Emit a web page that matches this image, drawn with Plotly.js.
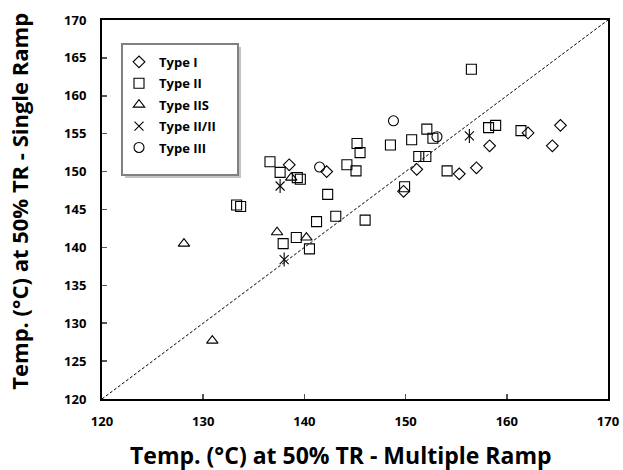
<!DOCTYPE html>
<html>
<head>
<meta charset="utf-8">
<script src="https://cdn.plot.ly/plotly-3.0.1.min.js"></script>
<style>html,body{margin:0;padding:0;background:#fff;}#chart{width:623px;height:470px;}</style>
</head>
<body>
<div id="chart"></div>
<script>
// Type I (diamonds)
const typeI_x = [138.5, 142.2, 151.1, 149.8, 162.1, 165.3, 164.5, 158.3, 157.0, 155.3];
const typeI_y = [150.9, 150.0, 150.3, 147.4, 155.1, 156.1, 153.4, 153.4, 150.5, 149.7];
// Type II (squares)
const typeII_x = [136.6, 137.6, 139.3, 139.6, 144.2, 145.1, 145.2, 145.5, 148.5, 150.6, 152.1, 152.7, 151.3, 152.0, 149.9, 142.3, 133.3, 133.7, 141.2, 143.1, 146.0, 137.9, 139.2, 140.5, 156.5, 158.2, 158.9, 161.4, 154.1];
const typeII_y = [151.3, 149.9, 149.2, 149.0, 150.9, 150.1, 153.7, 152.5, 153.5, 154.2, 155.6, 154.4, 152.0, 152.0, 148.0, 147.0, 145.6, 145.4, 143.4, 144.1, 143.6, 140.5, 141.3, 139.8, 163.5, 155.8, 156.1, 155.4, 150.1];
// Type IIS (triangles)
const typeIIS_x = [138.7, 128.1, 137.3, 140.2, 130.9];
const typeIIS_y = [149.2, 140.5, 142.0, 141.3, 127.7];
// Type II/II (stars)
const typeIIII_x = [137.6, 138.0, 156.3];
const typeIIII_y = [148.1, 138.4, 154.7];
// Type III (circles)
const typeIII_x = [148.8, 141.5, 153.1];
const typeIII_y = [156.7, 150.6, 154.6];
// 1:1 reference line
const identity_x = [120, 170];
const identity_y = [120, 170];
const xTicks = [120, 130, 140, 150, 160, 170];
const yTicks = [120, 125, 130, 135, 140, 145, 150, 155, 160, 165, 170];
const xTitle = 'Temp. (°C) at 50% TR - Multiple Ramp';
const yTitle = 'Temp. (°C) at 50% TR - Single Ramp';

const FONT = '"Open Sans", Lato, sans-serif';
const mk = (sym, size) => ({symbol: sym, size: size, color: '#000', line: {color: '#000', width: 1.1}});

const traces = [
  {x: identity_x, y: identity_y, yaxis: 'y2', mode: 'lines', line: {color: '#000', width: 1, dash: '3px,2px'}, showlegend: false, hoverinfo: 'skip'},
  {x: typeI_x, y: typeI_y, mode: 'markers', name: 'Type I', legendgroup: 'g1', marker: mk('diamond-open', 9)},
  {x: typeII_x, y: typeII_y, mode: 'markers', name: 'Type II', legendgroup: 'g2', marker: mk('square-open', 10)},
  {x: typeIIS_x, y: typeIIS_y, mode: 'markers', name: 'Type IIS', legendgroup: 'g3', marker: mk('triangle-up-open', 10)},
  {x: typeIIII_x, y: typeIIII_y, mode: 'markers', name: 'Type II/II', legendgroup: 'g4', marker: mk('x-thin-open', 9)},
  {x: typeIIII_x, y: typeIIII_y, mode: 'markers', showlegend: false, legendgroup: 'g4', hoverinfo: 'skip', marker: mk('line-ns-open', 10)},
  {x: typeIII_x, y: typeIII_y, mode: 'markers', name: 'Type III', legendgroup: 'g5', marker: mk('circle-open', 10)}
];

const layout = {
  width: 623, height: 470,
  margin: {l: 102, r: 15, t: 20, b: 71},
  paper_bgcolor: '#fff', plot_bgcolor: '#fff',
  font: {family: FONT, color: '#000'},
  showlegend: true,
  legend: {
    x: 0.0336, y: 0.929, xanchor: 'left', yanchor: 'top',
    bgcolor: 'rgba(0,0,0,0)', borderwidth: 0,
    font: {family: FONT, size: 13, color: '#000', weight: 'bold'},
    itemwidth: 30, tracegroupgap: 1.5
  },
  shapes: [
    {type: 'rect', xref: 'paper', yref: 'paper', x0: 0.0455, x1: 0.2747, y0: 0.583, y1: 0.9288,
     fillcolor: '#c4c4c4', line: {width: 0}, layer: 'above'},
    {type: 'rect', xref: 'paper', yref: 'paper', x0: 0.0395, x1: 0.2688, y0: 0.591, y1: 0.9367,
     fillcolor: '#fff', line: {width: 2, color: '#808080'}, layer: 'above'}
  ],
  annotations: [
    {text: xTitle, xref: 'paper', yref: 'paper', x: 0.4723, y: -0.148, xanchor: 'center', yanchor: 'middle',
     showarrow: false, font: {family: FONT, size: 23, weight: 'bold', color: '#000'}},
    {text: yTitle, xref: 'paper', yref: 'paper', x: -0.163, y: 0.522, xanchor: 'center', yanchor: 'middle',
     textangle: -90, showarrow: false, font: {family: FONT, size: 22, weight: 'bold', color: '#000'}}
  ],
  xaxis: {
    range: [120, 170], tickvals: xTicks, ticks: 'inside', ticklen: 5, tickcolor: '#555', tickwidth: 1.5,
    showline: true, linecolor: '#000', linewidth: 2, mirror: true, showgrid: false, zeroline: false,
    ticklabelstandoff: 9,
    tickfont: {family: FONT, size: 13, weight: 'bold'}
  },
  yaxis: {
    range: [120, 170], tickvals: yTicks, ticks: 'outside', ticklen: 11, tickcolor: 'rgba(0,0,0,0)',
    showline: true, linecolor: '#000', linewidth: 2, mirror: true, showgrid: false, zeroline: false,
    tickfont: {family: FONT, size: 13, weight: 'bold'}
  },
  yaxis2: {
    range: [120, 170], overlaying: 'y', side: 'left', tickvals: yTicks, ticks: 'inside', ticklen: 5,
    tickcolor: '#555', tickwidth: 1.5, showticklabels: false, showline: false, showgrid: false, zeroline: false
  }
};

Plotly.newPlot('chart', traces, layout, {displayModeBar: false, staticPlot: true});
</script>
</body>
</html>
